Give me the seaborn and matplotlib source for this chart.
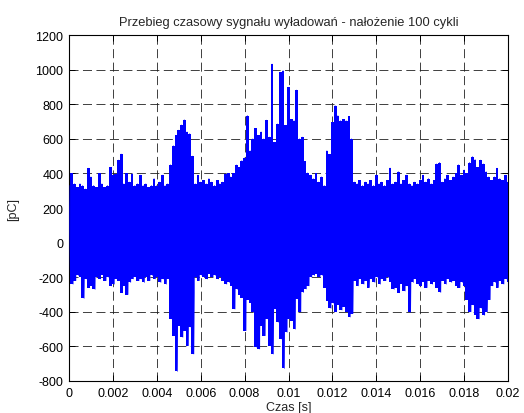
import numpy as np
import pandas as pd
import matplotlib
matplotlib.use("Agg")
import matplotlib.pyplot as plt
import seaborn as sns

# ---- data (local max / min of the signal per time slot) ----
t_step = 0.000125
upper = [330, 400, 340, 320, 340, 330, 310, 430, 380, 330,
         320, 400, 340, 320, 330, 435, 390, 395, 477, 512,
         340, 400, 350, 398, 330, 340, 390, 330, 340, 320,
         330, 370, 330, 350, 390, 330, 340, 450, 560, 620,
         650, 680, 710, 640, 630, 500, 340, 390, 350, 360,
         340, 370, 350, 330, 360, 340, 350, 395, 400, 380,
         400, 449, 435, 474, 490, 734, 531, 600, 660, 620,
         640, 600, 708, 610, 1032, 580, 686, 984, 994, 677,
         898, 712, 705, 882, 600, 610, 470, 403, 390, 370,
         400, 350, 380, 330, 531, 510, 695, 791, 734, 705,
         712, 705, 730, 600, 350, 340, 360, 330, 350, 340,
         360, 330, 390, 340, 350, 330, 360, 431, 340, 350,
         410, 340, 360, 390, 340, 330, 350, 340, 360, 390,
         350, 370, 340, 360, 455, 463, 350, 370, 390, 360,
         380, 400, 450, 390, 420, 400, 463, 497, 480, 435,
         477, 455, 410, 380, 360, 380, 430, 370, 360, 390,
         350]
lower = [-200, -240, -220, -190, -200, -322, -210, -260, -250, -270,
         -200, -210, -190, -220, -200, -250, -240, -210, -220, -290,
         -250, -300, -230, -210, -200, -220, -210, -230, -200, -220,
         -190, -210, -200, -230, -210, -240, -210, -441, -538, -744,
         -480, -547, -509, -596, -490, -644, -200, -220, -190, -200,
         -210, -180, -200, -190, -210, -200, -220, -240, -230, -250,
         -384, -270, -300, -320, -509, -330, -350, -400, -605, -615,
         -480, -538, -441, -596, -644, -384, -461, -557, -727, -518,
         -441, -451, -500, -326, -400, -288, -268, -250, -200, -190,
         -180, -200, -190, -260, -340, -380, -350, -400, -360, -390,
         -370, -400, -430, -410, -220, -250, -210, -240, -220, -260,
         -210, -230, -200, -240, -210, -220, -200, -230, -270, -260,
         -290, -240, -280, -250, -403, -230, -210, -240, -250, -230,
         -260, -220, -240, -230, -260, -288, -220, -240, -210, -230,
         -220, -250, -260, -230, -250, -330, -400, -360, -420, -441,
         -380, -420, -400, -330, -250, -230, -260, -220, -240, -210,
         -230]
x_ticks = [0, 0.002, 0.004, 0.006, 0.008, 0.01, 0.012, 0.014, 0.016, 0.018, 0.02]
x_tick_labels = ["0", "0.002", "0.004", "0.006", "0.008", "0.01", "0.012",
                 "0.014", "0.016", "0.018", "0.02"]
y_ticks = [-800, -600, -400, -200, 0, 200, 400, 600, 800, 1000, 1200]
title = "Przebieg czasowy sygnału wyładowań - nałożenie 100 cykli"
x_label = "Czas [s]"
y_label = "[pC]"

# ---- build the signal table ----
t = np.arange(len(upper)) * t_step
zig_t = np.empty(2 * len(t))
zig_v = np.empty(2 * len(t))
zig_t[0::2] = t
zig_t[1::2] = t + t_step / 2
zig_v[0::2] = upper
zig_v[1::2] = lower
df = pd.DataFrame({"t": zig_t, "v": zig_v})

sns.set_style("ticks")
plt.rcParams["font.family"] = ["Liberation Sans", "DejaVu Sans"]
plt.rcParams["lines.scale_dashes"] = False

fig = plt.figure(figsize=(5.24, 4.14), dpi=100)
ax = fig.add_axes([0.1317, 0.0773, 0.8378, 0.8357])

blue = "#0000ff"
ax.fill_between(t, lower, upper, step="mid", color=blue, linewidth=0, zorder=2)
sns.lineplot(data=df, x="t", y="v", sort=False, estimator=None, color=blue,
             linewidth=0.5, ax=ax, zorder=3)

ax.set_xlim(0, 0.02)
ax.set_ylim(-800, 1200)
ax.set_xticks(x_ticks)
ax.set_xticklabels(x_tick_labels)
ax.set_yticks(y_ticks)
ax.set_yticklabels([str(v) for v in y_ticks])

ax.set_axisbelow(True)
ax.grid(True, color="#202020", linestyle=(0, (6.5, 3.2)), linewidth=0.6)

for s in ax.spines.values():
    s.set_visible(True)
    s.set_color("black")
    s.set_linewidth(0.8)

ax.tick_params(direction="in", length=4.5, width=0.7, top=True, right=True,
               labelsize=9, colors="black", pad=4)

ax.set_title(title, fontsize=9.3, pad=7)
ax.set_xlabel(x_label, fontsize=9, labelpad=2)
ax.set_ylabel(y_label, fontsize=9)
ax.yaxis.set_label_coords(-0.114, 0.5)

fig.savefig("out.png", dpi=100)
